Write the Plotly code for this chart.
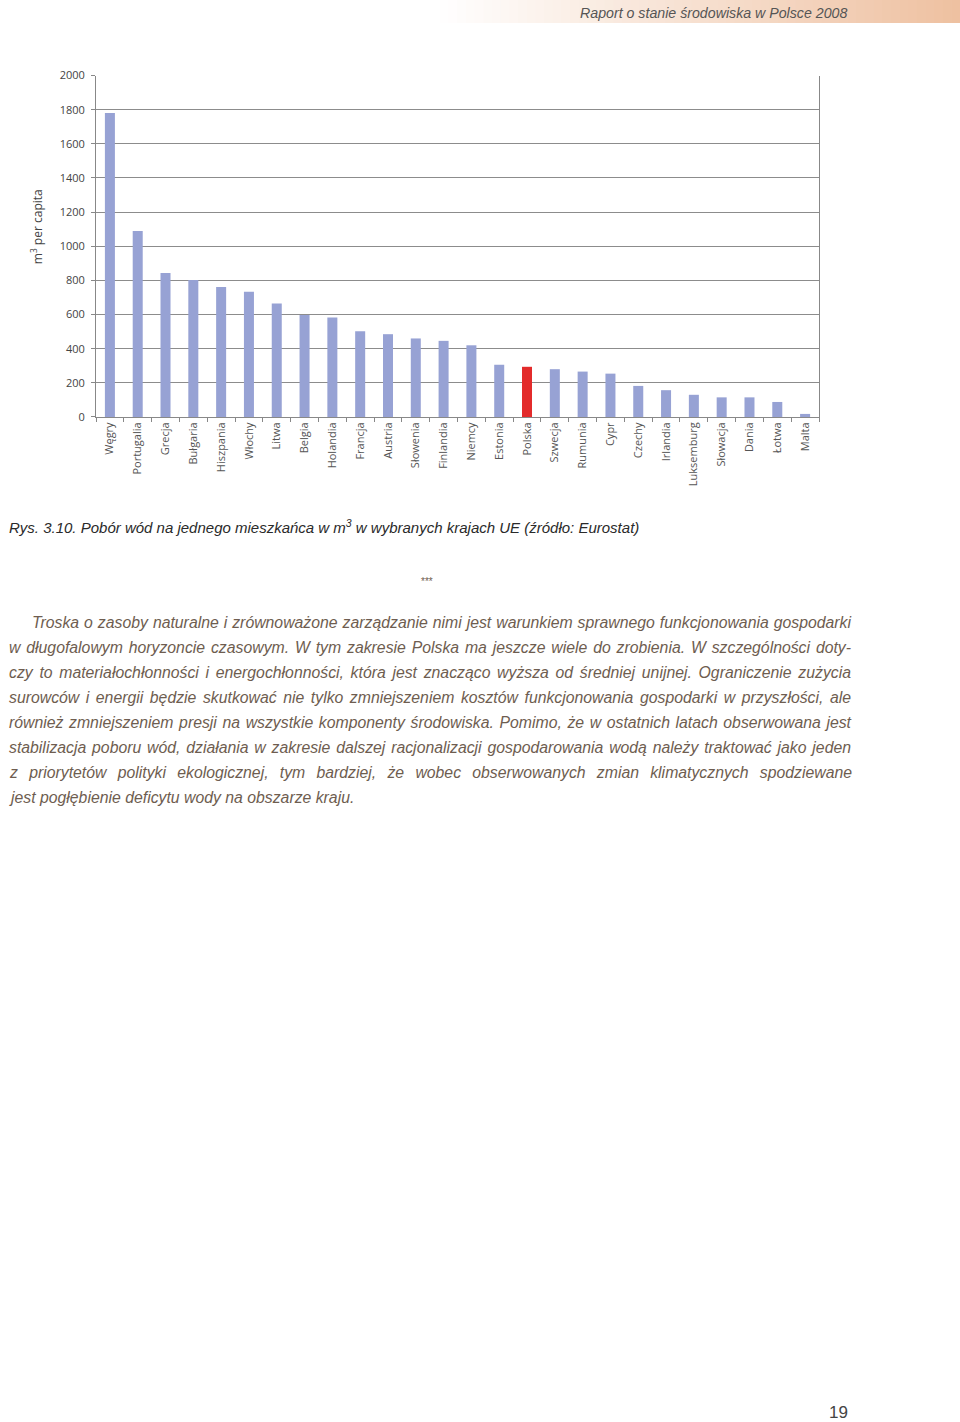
import json
import plotly.graph_objects as go

countries = ["Węgry", "Portugalia", "Grecja", "Bułgaria", "Hiszpania", "Włochy", "Litwa",
             "Belgia", "Holandia", "Francja", "Austria", "Słowenia", "Finlandia", "Niemcy",
             "Estonia", "Polska", "Szwecja", "Rumunia", "Cypr", "Czechy", "Irlandia",
             "Luksemburg", "Słowacja", "Dania", "Łotwa", "Malta"]
values = [1780, 1090, 843, 802, 762, 733, 665, 597, 583, 502, 485, 460, 446, 420,
          306, 294, 280, 266, 254, 182, 157, 130, 115, 115, 88, 18]
y_ticks = [0, 200, 400, 600, 800, 1000, 1200, 1400, 1600, 1800, 2000]
highlight = "Polska"

header = "Raport o stanie środowiska w Polsce 2008"
caption = "Rys. 3.10. Pobór wód na jednego mieszkańca w m<sup>3</sup> w wybranych krajach UE (źródło: Eurostat)"
paragraph = [
    "Troska o zasoby naturalne i zrównoważone zarządzanie nimi jest warunkiem sprawnego funkcjonowania gospodarki",
    "w długofalowym horyzoncie czasowym. W tym zakresie Polska ma jeszcze wiele do zrobienia. W szczególności doty-",
    "czy to materiałochłonności i energochłonności, która jest znacząco wyższa od średniej unijnej. Ograniczenie zużycia",
    "surowców i energii będzie skutkować nie tylko zmniejszeniem kosztów funkcjonowania gospodarki w przyszłości, ale",
    "również zmniejszeniem presji na wszystkie komponenty środowiska. Pomimo, że w ostatnich latach obserwowana jest",
    "stabilizacja poboru wód, działania w zakresie dalszej racjonalizacji gospodarowania wodą należy traktować jako jeden",
    "z priorytetów polityki ekologicznej, tym bardziej, że wobec obserwowanych zmian klimatycznych spodziewane",
    "jest pogłębienie deficytu wody na obszarze kraju.",
]
page_number = "19"

W, H = 960, 1422
TOP = 8  # offset observed in the rendered page
BAR = "#97a2d4"
RED = "#e32b2b"
BROWN = "#6e5d50"
FONT = "Liberation Sans"
TEXT_RIGHT = 849


def px(x):
    return x / W


def py(y):
    return 1 - (y - TOP) / (H - 2 * TOP)


colors = [RED if c == highlight else BAR for c in countries]

fig = go.Figure(go.Bar(x=countries, y=values, marker=dict(color=colors, line_width=0),
                       hoverinfo="x+y"))

shapes = []
# header gradient band
n = 60
x0, x1 = 440, 960
c0 = (255, 255, 255)
c1 = (238, 192, 160)
for i in range(n):
    t = (i + 0.5) / n
    col = tuple(int(round(c0[k] + (c1[k] - c0[k]) * t)) for k in range(3))
    xa = x0 + (x1 - x0) * i / n
    xb = x0 + (x1 - x0) * (i + 1) / n + 0.6
    shapes.append(dict(type="rect", xref="paper", yref="paper", x0=px(xa), x1=px(xb),
                       y0=py(23), y1=py(0), line_width=0, fillcolor="rgb(%d,%d,%d)" % col,
                       layer="below"))

annotations = [
    dict(text="<i>" + header + "</i>", x=px(TEXT_RIGHT), y=py(12.5), xref="paper", yref="paper",
         xanchor="right", yanchor="middle", showarrow=False,
         font=dict(family=FONT, size=14.2, color="#555555")),
    dict(text="m<sup>3</sup> per capita", x=px(37), y=py(227), xref="paper", yref="paper",
         xanchor="center", yanchor="middle", showarrow=False, textangle=-90,
         font=dict(family="Open Sans", size=12, color="#444444")),
    dict(text="<i>" + caption + "</i>", x=px(7), y=py(526), xref="paper", yref="paper",
         xanchor="left", yanchor="middle", showarrow=False, align="left",
         font=dict(family=FONT, size=15, color="#2a2a2a")),
    dict(text="***", x=px(427), y=py(581), xref="paper", yref="paper",
         xanchor="center", yanchor="middle", showarrow=False,
         font=dict(family=FONT, size=10, color=BROWN)),
    dict(text=page_number, x=px(838), y=py(1412), xref="paper", yref="paper",
         xanchor="center", yanchor="middle", showarrow=False,
         font=dict(family=FONT, size=17, color="#444444")),
]
justify = []  # [annotation index, left x] of lines to justify
for i, line in enumerate(paragraph):
    xl = 30 if i == 0 else 7
    if i < len(paragraph) - 1:
        justify.append([len(annotations), xl])
    annotations.append(dict(text="<i>" + line + "</i>", x=px(xl), y=py(622 + 25 * i),
                            xref="paper", yref="paper", xanchor="left", yanchor="middle",
                            align="left", showarrow=False,
                            font=dict(family=FONT, size=15.8, color=BROWN)))

fig.update_layout(
    width=W, height=H,
    margin=dict(l=0, r=0, t=0, b=0),
    paper_bgcolor="white", plot_bgcolor="white",
    showlegend=False,
    bargap=0.64,
    shapes=shapes,
    annotations=annotations,
    xaxis=dict(domain=[px(96), px(819)], type="category", tickangle=-90,
               tickson="boundaries", ticks="outside", ticklen=4, tickcolor="#888888",
               showline=True, linecolor="#888888", linewidth=1, showgrid=False,
               tickfont=dict(family="Open Sans", size=11, color="#555555"),
               anchor="y"),
    yaxis=dict(domain=[py(416.7), py(75.5)], range=[0, 2000], tickvals=y_ticks,
               ticks="outside", ticklen=4, tickcolor="#888888",
               showline=True, linecolor="#888888", linewidth=1, mirror=True,
               showgrid=True, gridcolor="#8c8c8c", gridwidth=1, zeroline=False,
               tickfont=dict(family="Open Sans", size=11, color="#444444"),
               ticklabelstandoff=4),
)

post = """
var gd = document.getElementById('{plot_id}');
var JUST = %s, RIGHT = %d;
function justifyLines(){
  JUST.forEach(function(p){
    var g = gd.querySelector('.annotation[data-index="' + p[0] + '"]');
    if(!g) return;
    var t = g.querySelector('text.annotation-text');
    if(!t) return;
    t.style.wordSpacing = '0px';
    var w = t.getComputedTextLength();
    var n = (t.textContent.match(/ /g) || []).length;
    if(n > 0){
      var ws = (RIGHT - p[1] - w) / n;
      t.style.wordSpacing = ws + 'px';
    }
  });
}
justifyLines();
gd.on('plotly_afterplot', justifyLines);
""" % (json.dumps(justify), TEXT_RIGHT)

fig.write_html("out.html", post_script=post, config={"responsive": False})
